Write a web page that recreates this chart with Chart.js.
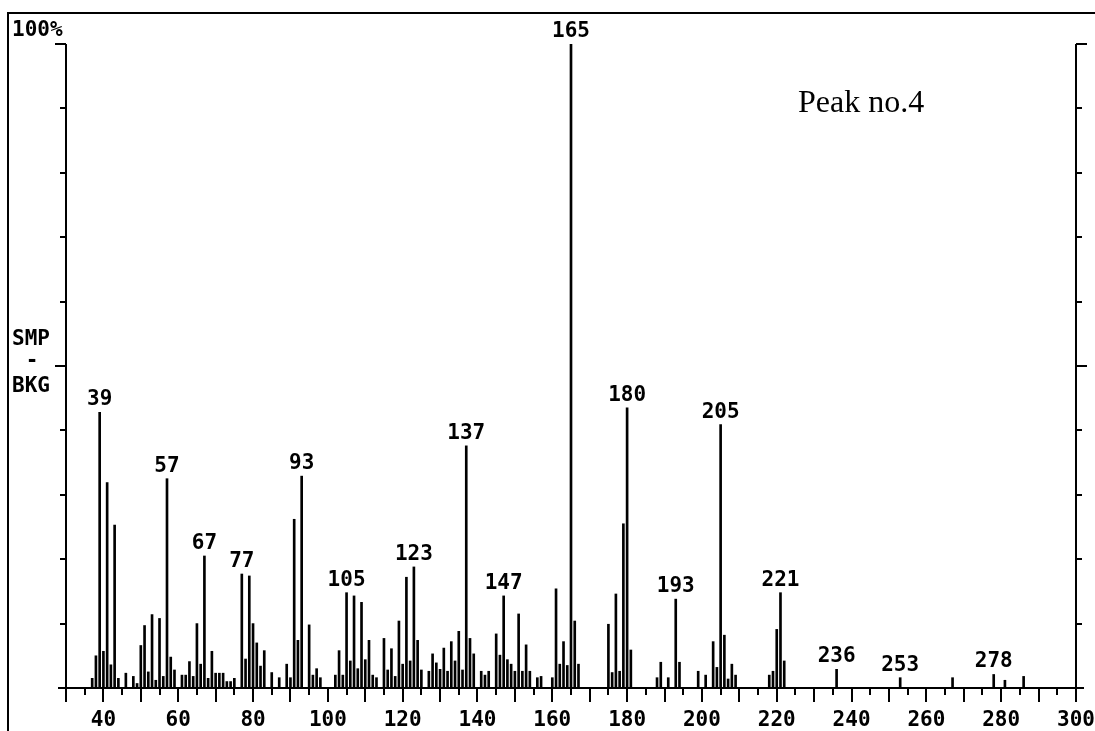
<!DOCTYPE html>
<html>
<head>
<meta charset="utf-8">
<title>Peak no.4</title>
<script src="https://cdn.jsdelivr.net/npm/chart.js@4.4.1/dist/chart.umd.min.js"></script>
<style>
  html, body { margin: 0; padding: 0; background: #fff; }
  #wrap { width: 1095px; height: 731px; position: relative; }
</style>
</head>
<body>
<div id="wrap"><canvas id="spectrum"></canvas></div>
<script>
// m/z of every line in the spectrum
const massValues = [
  37, 38, 39, 40, 41, 42, 43, 44, 46, 48, 49,
  50, 51, 52, 53, 54, 55, 56, 57, 58, 59,
  61, 62, 63, 64, 65, 66, 67, 68, 69,
  70, 71, 72, 73, 74, 75, 77, 78, 79,
  80, 81, 82, 83, 85, 87, 89,
  90, 91, 92, 93, 95, 96, 97, 98,
  102, 103, 104, 105, 106, 107, 108, 109,
  110, 111, 112, 113, 115, 116, 117, 118, 119,
  120, 121, 122, 123, 124, 125, 127, 128, 129,
  130, 131, 132, 133, 134, 135, 136, 137, 138, 139,
  141, 142, 143, 145, 146, 147, 148, 149,
  150, 151, 152, 153, 154, 156, 157,
  160, 161, 162, 163, 164, 165, 166, 167,
  175, 176, 177, 178, 179,
  180, 181, 188, 189,
  191, 193, 194, 199,
  201, 203, 204, 205, 206, 207, 208, 209,
  218, 219, 220, 221, 222,
  236, 253, 267, 278, 281, 286
];

// relative abundance (%), same order as massValues
const intensities = [
  1.5, 5.0, 42.8, 5.7, 31.9, 3.6, 25.3, 1.5, 2.3, 1.8, 0.7,
  6.6, 9.7, 2.5, 11.4, 1.2, 10.8, 1.8, 32.5, 4.8, 2.8,
  2.0, 2.0, 4.1, 1.8, 10.0, 3.7, 20.5, 1.5, 5.7,
  2.3, 2.3, 2.3, 1.0, 1.0, 1.5, 17.7, 4.5, 17.4,
  10.0, 7.0, 3.4, 5.8, 2.4, 1.6, 3.7,
  1.6, 26.2, 7.4, 32.9, 9.8, 2.0, 3.0, 1.6,
  2.0, 5.8, 2.0, 14.8, 4.2, 14.3, 3.0, 13.3,
  4.4, 7.4, 2.0, 1.6, 7.7, 2.8, 6.1, 1.8, 10.4,
  3.7, 17.2, 4.2, 18.8, 7.4, 2.8, 2.6, 5.3, 3.9,
  2.9, 6.2, 2.6, 7.2, 4.2, 8.8, 2.8, 37.6, 7.7, 5.3,
  2.6, 2.0, 2.6, 8.4, 5.1, 14.3, 4.4, 3.7,
  2.6, 11.5, 2.6, 6.7, 2.6, 1.6, 1.8,
  1.6, 15.4, 3.7, 7.2, 3.5, 100, 10.4, 3.7,
  9.9, 2.4, 14.6, 2.6, 25.5,
  43.5, 5.9, 1.6, 4.0,
  1.6, 13.8, 4.0, 2.6,
  2.0, 7.2, 3.2, 40.9, 8.2, 1.4, 3.7, 2.0,
  2.0, 2.6, 9.1, 14.8, 4.2,
  2.9, 1.6, 1.6, 2.1, 1.2, 1.8
];

const labelledPeaks = [39, 57, 67, 77, 93, 105, 123, 137, 147, 165, 180, 193, 205, 221, 236, 253, 278];
const xTickLabels = [40, 60, 80, 100, 120, 140, 160, 180, 200, 220, 240, 260, 280, 300];
const titleText = 'Peak no.4';
const yTopText = '100%';
const yMidText = ['SMP', '-', 'BKG'];

const monoFont = 'bold 21px "DejaVu Sans Mono", monospace';

// axis lines, ticks and texts drawn against the chart scales
const spectrumDecor = {
  id: 'spectrumDecor',
  afterDraw(chart) {
    const ctx = chart.ctx;
    const xs = chart.scales.x;
    const ys = chart.scales.y;
    const left = xs.getPixelForValue(30);
    const right = xs.getPixelForValue(300);
    const base = ys.getPixelForValue(0);
    const top = ys.getPixelForValue(100);

    ctx.save();
    ctx.strokeStyle = '#000';
    ctx.fillStyle = '#000';
    ctx.lineWidth = 2;
    ctx.lineCap = 'butt';

    // outer frame (top and left edges)
    ctx.beginPath();
    ctx.moveTo(7, 13);
    ctx.lineTo(chart.width, 13);
    ctx.moveTo(8, 13);
    ctx.lineTo(8, chart.height);
    ctx.stroke();

    // baseline
    ctx.beginPath();
    ctx.moveTo(left - 8, base);
    ctx.lineTo(right + 8, base);
    ctx.stroke();

    // x ticks every 5, longer every 10
    ctx.beginPath();
    for (let v = 30; v <= 300; v += 5) {
      const px = Math.round(xs.getPixelForValue(v));
      const len = v % 10 === 0 ? 14 : 7;
      ctx.moveTo(px, base);
      ctx.lineTo(px, base + len);
    }
    ctx.stroke();

    // left and right intensity axes
    ctx.beginPath();
    ctx.moveTo(left, base);
    ctx.lineTo(left, top);
    ctx.moveTo(right, base);
    ctx.lineTo(right, top);
    for (let v = 10; v <= 100; v += 10) {
      const py = Math.round(ys.getPixelForValue(v));
      const len = (v === 50 || v === 100) ? 11 : 6;
      ctx.moveTo(left, py);
      ctx.lineTo(left - len, py);
      ctx.moveTo(right, py);
      ctx.lineTo(right + len, py);
    }
    ctx.stroke();

    // peak labels
    ctx.font = monoFont;
    ctx.textAlign = 'center';
    ctx.textBaseline = 'bottom';
    labelledPeaks.forEach((m) => {
      const i = massValues.indexOf(m);
      if (i < 0) return;
      const px = xs.getPixelForValue(m);
      const py = ys.getPixelForValue(intensities[i]);
      ctx.fillText(String(m), px, py - 2);
    });

    // y axis captions
    ctx.textAlign = 'left';
    ctx.textBaseline = 'middle';
    ctx.fillText(yTopText, 12, top - 13);
    const midY = ys.getPixelForValue(50);
    ctx.fillText(yMidText[0], 12, midY - 26);
    ctx.textAlign = 'center';
    ctx.fillText(yMidText[1], 32, midY - 4);
    ctx.textAlign = 'left';
    ctx.fillText(yMidText[2], 12, midY + 21);

    // title
    ctx.font = '32px "Liberation Serif", "Times New Roman", serif';
    ctx.textBaseline = 'alphabetic';
    ctx.fillText(titleText, 798, 112);
    ctx.restore();
  }
};

new Chart(document.getElementById('spectrum'), {
  type: 'bar',
  data: {
    datasets: [{
      data: massValues.map((m, i) => ({ x: m, y: intensities[i] })),
      backgroundColor: '#000',
      borderWidth: 0,
      barThickness: 2
    }]
  },
  options: {
    responsive: true,
    maintainAspectRatio: false,
    animation: false,
    events: [],
    layout: {
      padding: { top: 44, right: 0, left: 0, bottom: 0 }
    },
    plugins: {
      legend: { display: false },
      tooltip: { enabled: false }
    },
    scales: {
      x: {
        type: 'linear',
        min: 30,
        max: 300,
        offset: false,
        grid: { display: false, drawTicks: false },
        border: { display: false },
        afterBuildTicks: (scale) => {
          scale.ticks = xTickLabels.map((v) => ({ value: v }));
        },
        afterFit: (scale) => {
          scale.height = 43;
          scale.paddingLeft = 0;
          scale.paddingRight = 19;
        },
        ticks: {
          autoSkip: false,
          maxRotation: 0,
          padding: 20,
          color: '#000',
          font: { family: '"DejaVu Sans Mono", monospace', weight: 'bold', size: 21 }
        }
      },
      y: {
        min: 0,
        max: 100,
        grid: { display: false, drawTicks: false },
        border: { display: false },
        ticks: { display: false },
        afterFit: (scale) => { scale.width = 66; }
      }
    }
  },
  plugins: [spectrumDecor]
});
</script>
</body>
</html>
